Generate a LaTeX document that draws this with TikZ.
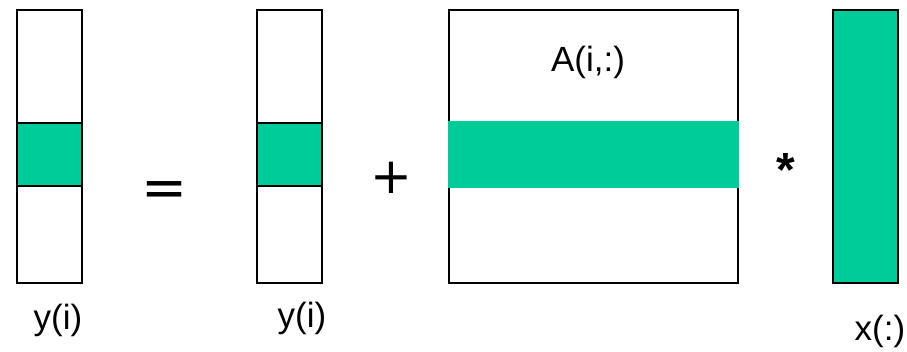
\documentclass[tikz,border=0pt]{standalone}
\usepackage{fontspec}
\setmainfont{Liberation Sans}
\newfontfamily\opfont{DejaVu Sans}
\usepackage{tikz}
\usetikzlibrary{positioning}
\definecolor{RowGreen}{HTML}{00CC99}

\begin{document}
\begin{tikzpicture}[
  x=1pt, y=-1pt,
  vec/.style={draw, line width=2pt, minimum width=65pt, minimum height=273pt, inner sep=0pt},
  mat/.style={draw, line width=2pt, minimum width=289pt, minimum height=273pt, inner sep=0pt},
  band/.style={draw, fill=RowGreen, line width=2pt, minimum width=65pt, minimum height=63pt, inner sep=0pt},
  rowband/.style={fill=RowGreen, minimum width=291pt, minimum height=67pt, inner sep=0pt},
  lbl/.style={font=\fontsize{35}{40}\selectfont, inner sep=0pt},
  op/.style={font=\opfont\fontsize{55}{60}\selectfont, inner sep=0pt, anchor=base}
]
  \useasboundingbox (0,0) rectangle (907,352);

  % y(i) on the left
  \node[vec] (yl) at (49.5,146.5) {};
  \node[band] (ylrow) at (49.5,154.5) {};
  \node[lbl] (yllbl) at (58,320) {y(i)};

  \node[op] (eq) at (164.5,207) {=};

  % y(i) on the right
  \node[vec] (yr) at (289.5,146.5) {};
  \node[band] (yrrow) at (289.5,154.5) {};
  \node[lbl] (yrlbl) at (302,318) {y(i)};

  \node[op, font=\opfont\fontsize{50}{55}\selectfont] (plus) at (391.5,194) {+};

  % the matrix and its row
  \node[mat] (A) at (593.5,146.5) {};
  \node[rowband] (Arow) at (593.5,154.5) {};
  \node[lbl] (Albl) at (588,62) {A(i,:)};

  \node[op, font=\fontsize{48}{52}\selectfont\bfseries] (times) at (785.5,187) {*};

  % x(:)
  \node[vec, fill=RowGreen] (x) at (865.5,146.5) {};
  \node[lbl] (xlbl) at (880,331) {x(:)};
\end{tikzpicture}
\end{document}
